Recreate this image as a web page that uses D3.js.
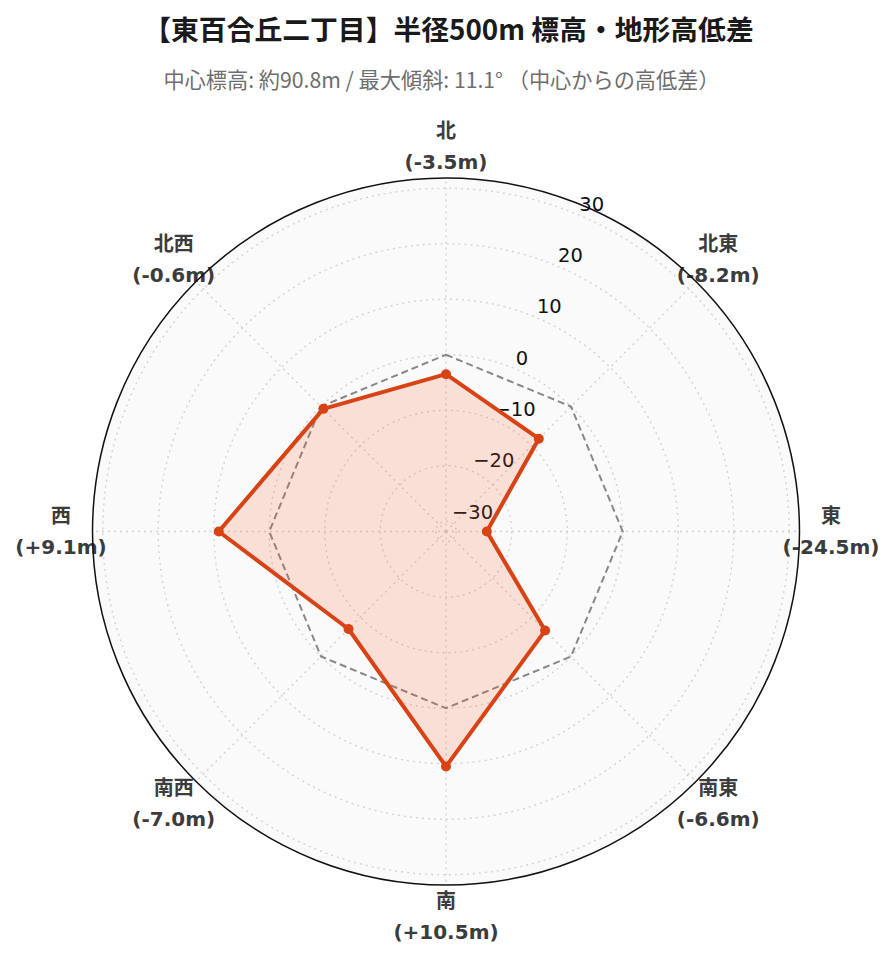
<!DOCTYPE html>
<html>
<head>
<meta charset="utf-8">
<script src="https://cdn.jsdelivr.net/npm/d3@7"></script>
<style>
  body { margin: 0; background: #fff; }
  svg { display: block; }
</style>
</head>
<body>
<script>
// directions clockwise from north, elevation difference from centre (m)
var directions = ['北', '北東', '東', '南東', '南', '南西', '西', '北西'];
var diffs = [-3.5, -8.2, -24.5, -6.6, 10.5, -7.0, 9.1, -0.6];
var baseline = [0, 0, 0, 0, 0, 0, 0, 0];
var radialTicks = [-30, -20, -10, 0, 10, 20, 30];
var radialRange = [-31.85, 31.85];

var width = 896, height = 962;
var cx = 446, cy = 531.5, R = 353.5;

var svg = d3.select('body')
  .append('svg')
  .attr('width', width)
  .attr('height', height);

// title
svg.append('text')
  .attr('x', 448.5)
  .attr('y', 28)
  .attr('text-anchor', 'middle')
  .attr('dominant-baseline', 'central')
  .attr('font-family', '"Noto Sans CJK JP", sans-serif')
  .attr('font-weight', 'bold')
  .attr('font-size', 27.8)
  .attr('fill', '#1a1a1a')
  .text('【東百合丘二丁目】半径500m 標高・地形高低差');

svg.append('text')
  .attr('x', 441.5)
  .attr('y', 78)
  .attr('text-anchor', 'middle')
  .attr('dominant-baseline', 'central')
  .attr('font-family', '"Noto Sans CJK JP", sans-serif')
  .attr('font-size', 21.2)
  .attr('fill', '#6e6e6e')
  .text('中心標高: 約90.8m / 最大傾斜: 11.1° （中心からの高低差）');

var angle = d3.scaleLinear().domain([0, directions.length]).range([0, 2 * Math.PI]);
var r = d3.scaleLinear().domain(radialRange).range([0, R]);

var g = svg.append('g').attr('transform', 'translate(' + cx + ',' + cy + ')');

// polar background
g.append('circle').attr('r', R).attr('fill', '#fafafa');

// radial grid circles
g.selectAll('circle.grid')
  .data(radialTicks)
  .enter().append('circle')
  .attr('class', 'grid')
  .attr('r', function(d) { return r(d); })
  .attr('fill', 'none')
  .attr('stroke', '#d2d2d2')
  .attr('stroke-width', 1.4)
  .attr('stroke-dasharray', '2,4');

// angular grid lines
g.selectAll('line.spoke')
  .data(directions)
  .enter().append('line')
  .attr('class', 'spoke')
  .attr('x1', 0).attr('y1', 0)
  .attr('x2', function(d, i) { return R * Math.sin(angle(i)); })
  .attr('y2', function(d, i) { return -R * Math.cos(angle(i)); })
  .attr('stroke', '#d2d2d2')
  .attr('stroke-width', 1.4)
  .attr('stroke-dasharray', '2,4');

// radial tick labels along 22.5 deg
var tickAngle = Math.PI / 8;
g.selectAll('text.rtick')
  .data(radialTicks)
  .enter().append('text')
  .attr('class', 'rtick')
  .attr('x', function(d) { return r(d) * Math.sin(tickAngle) + 2; })
  .attr('y', function(d) { return -r(d) * Math.cos(tickAngle) - 10; })
  .attr('dominant-baseline', 'central')
  .attr('font-family', '"DejaVu Sans", sans-serif')
  .attr('font-size', 19.5)
  .attr('fill', '#111')
  .text(function(d) { return d < 0 ? '\u2212' + Math.abs(d) : d; });

var radial = d3.lineRadial()
  .angle(function(d, i) { return angle(i); })
  .radius(function(d) { return r(d); })
  .curve(d3.curveLinearClosed);

// zero reference
g.append('path')
  .datum(baseline)
  .attr('d', radial)
  .attr('fill', 'none')
  .attr('stroke', '#888')
  .attr('stroke-width', 2)
  .attr('stroke-dasharray', '7,4');

// elevation difference
g.append('path')
  .datum(diffs)
  .attr('d', radial)
  .attr('fill', 'rgba(255,87,34,0.16)')
  .attr('stroke', '#d84315')
  .attr('stroke-width', 4)
  .attr('stroke-linejoin', 'round');

g.selectAll('circle.pt')
  .data(diffs)
  .enter().append('circle')
  .attr('class', 'pt')
  .attr('cx', function(d, i) { return r(d) * Math.sin(angle(i)); })
  .attr('cy', function(d, i) { return -r(d) * Math.cos(angle(i)); })
  .attr('r', 5)
  .attr('fill', '#d84315');

// direction labels
var labelR = 385;
var lab = g.selectAll('text.dir')
  .data(directions)
  .enter().append('text')
  .attr('class', 'dir')
  .attr('text-anchor', 'middle')
  .attr('font-family', '"DejaVu Sans", "Noto Sans CJK JP", sans-serif')
  .attr('font-weight', 'bold')
  .attr('font-size', 20)
  .attr('fill', '#3c3c3c');

lab.append('tspan')
  .attr('x', function(d, i) { return labelR * Math.sin(angle(i)); })
  .attr('y', function(d, i) { return -labelR * Math.cos(angle(i)) - 15.5; })
  .attr('dominant-baseline', 'central')
  .text(function(d) { return d; });

lab.append('tspan')
  .attr('x', function(d, i) { return labelR * Math.sin(angle(i)); })
  .attr('y', function(d, i) { return -labelR * Math.cos(angle(i)) + 15.5; })
  .attr('dominant-baseline', 'central')
  .text(function(d, i) {
    var v = diffs[i];
    return '(' + (v > 0 ? '+' : '') + v.toFixed(1) + 'm)';
  });

// outer boundary
g.append('circle')
  .attr('r', R)
  .attr('fill', 'none')
  .attr('stroke', '#111')
  .attr('stroke-width', 1.5);
</script>
</body>
</html>
